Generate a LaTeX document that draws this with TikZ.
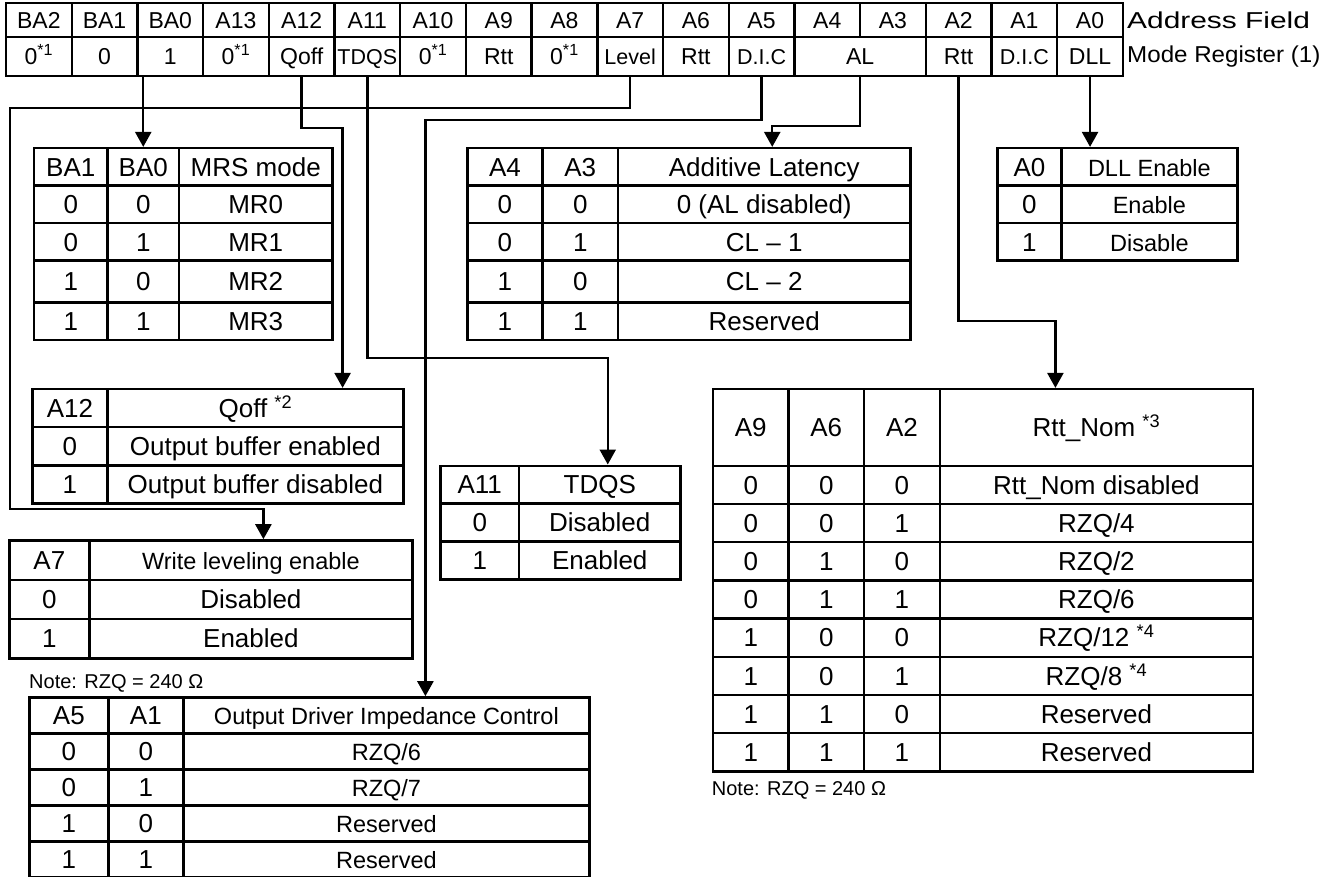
\documentclass[tikz,border=0pt]{standalone}
\usepackage{fontspec}
\setmainfont{Liberation Sans}
\usetikzlibrary{matrix, arrows.meta, positioning, calc}

\newcommand\tabfont{\fontsize{26}{30}\selectfont}
\newcommand\smallfont{\fontsize{23.5}{28}\selectfont}
\newcommand\regfont{\fontsize{23}{27}\selectfont}
\newcommand\tinyfont{\fontsize{21.5}{25}\selectfont}
\newcommand\notefont{\fontsize{20}{24}\selectfont}
\newcommand\sone{0\textsuperscript{*1}}

\begin{document}
\begin{tikzpicture}[
    x=1pt, y=-1pt,
    regcell/.style={draw, line width=2.4pt, inner sep=0pt, minimum width=65.7pt, font=\regfont, text height=16.5pt, text depth=0pt},
    tab/.style={matrix of nodes, inner sep=0pt, line width=2.4pt, row sep=-2.4pt, column sep=-2.4pt, anchor=north west,
        nodes={draw, line width=2.4pt, inner sep=0pt, anchor=center, minimum height=37.5pt, font=\tabfont, text height=18.6pt, text depth=0pt}},
    colw/.style 2 args={column #1/.style={nodes={minimum width=#2}}},
    rowh/.style 2 args={row #1/.style={nodes={minimum height=#2}}},
    arr/.style={line width=2.4pt, -{Triangle[width=16pt, length=15pt]}},
    notetext/.style={font=\notefont, inner sep=0pt}
]
    \useasboundingbox (0,0) rectangle (1331,877);

    % Register fields
    \foreach \lbl [count=\i from 0] in {BA2,BA1,BA0,A13,A12,A11,A10,A9,A8,A7,A6,A5,A4,A3,A2,A1,A0}
        \node[regcell, minimum height=34pt] (f\lbl) at ({6+65.7*(\i+0.5)},20) {\lbl};
    \foreach \nm/\i/\txt in {BA2/0/\sone, BA1/1/0, BA0/2/1, A13/3/\sone, A12/4/Qoff, A11/5/{\tinyfont TDQS},
        A10/6/\sone, A9/7/Rtt, A8/8/\sone, A7/9/{\tinyfont Level}, A6/10/Rtt, A5/11/{\tinyfont D.I.C},
        A2/14/Rtt, A1/15/{\tinyfont D.I.C}, A0/16/DLL}
        \node[regcell, minimum height=39pt] (m\nm) at ({6+65.7*(\i+0.5)},56.5) {\txt};
    \node[regcell, minimum height=39pt, minimum width=131.4pt] (mAL) at ({6+65.7*13},56.5) {AL};

    \node[font=\regfont, anchor=west, inner sep=0pt] (addr) at (1127,20) {\scalebox{1.3}[1]{Address Field}};
    \node[font=\regfont, anchor=west, inner sep=0pt] (mode) at (1127,57) {\scalebox{1.05}[1]{Mode Register (1)}};

    % Tables
    \matrix[tab, colw={1}{73.3pt}, colw={2}{71.7pt}, colw={3}{153.3pt}, rowh={4}{42pt}] (mrs) at (31.7,145.7) {
        BA1 & BA0 & MRS mode \\
        0 & 0 & MR0 \\
        0 & 1 & MR1 \\
        1 & 0 & MR2 \\
        1 & 1 & MR3 \\
    };
    \matrix[tab, colw={1}{75pt}, colw={2}{75.7pt}, colw={3}{292.3pt}, rowh={4}{42pt}] (altab) at (465,145.7) {
        A4 & A3 & Additive Latency \\
        0 & 0 & 0 (AL disabled) \\
        0 & 1 & CL -- 1 \\
        1 & 0 & CL -- 2 \\
        1 & 1 & Reserved \\
    };
    \matrix[tab, colw={1}{64pt}, colw={2}{176pt}, nodes={font=\smallfont}] (dll) at (995,145.7) {
        |[font=\tabfont]| A0 & DLL Enable \\
        |[font=\tabfont]| 0 & Enable \\
        |[font=\tabfont]| 1 & Disable \\
    };
    \matrix[tab, colw={1}{75pt}, colw={2}{296pt}, nodes={minimum height=38.1pt}] (qoff) at (30,386.7) {
        A12 & Qoff \textsuperscript{*2} \\
        0 & Output buffer enabled \\
        1 & Output buffer disabled \\
    };
    \matrix[tab, colw={1}{78.7pt}, colw={2}{161.3pt}, nodes={minimum height=37.9pt}] (tdqs) at (438,463.3) {
        A11 & TDQS \\
        0 & Disabled \\
        1 & Enabled \\
    };
    \matrix[tab, colw={1}{80pt}, colw={2}{323pt}, nodes={minimum height=39.3pt}] (wle) at (7,538) {
        A7 & |[font=\smallfont]| Write leveling enable \\
        0 & Disabled \\
        1 & Enabled \\
    };
    \matrix[tab, colw={1}{79pt}, colw={2}{75pt}, colw={3}{406pt}, nodes={minimum height=36pt},
            column 3/.append style={nodes={font=\smallfont}}] (odic) at (27,695) {
        A5 & A1 & Output Driver Impedance Control \\
        0 & 0 & RZQ/6 \\
        0 & 1 & RZQ/7 \\
        1 & 0 & Reserved \\
        1 & 1 & Reserved \\
    };
    \matrix[tab, colw={1}{75.3pt}, colw={2}{75.7pt}, colw={3}{75.6pt}, colw={4}{313.4pt},
            nodes={minimum height=38.2pt}, rowh={1}{76.6pt}] (rtt) at (710.7,386.7) {
        A9 & A6 & A2 & Rtt\_Nom \textsuperscript{*3} \\
        0 & 0 & 0 & Rtt\_Nom disabled \\
        0 & 0 & 1 & RZQ/4 \\
        0 & 1 & 0 & RZQ/2 \\
        0 & 1 & 1 & RZQ/6 \\
        1 & 0 & 0 & RZQ/12 \textsuperscript{*4} \\
        1 & 0 & 1 & RZQ/8 \textsuperscript{*4} \\
        1 & 1 & 0 & Reserved \\
        1 & 1 & 1 & Reserved \\
    };

    % Notes
    \node[notetext, anchor=base west] (noteodic) at ([xshift=2pt, yshift=7pt]odic.north west) {Note: RZQ = 240 Ω};
    \node[notetext, anchor=base west] (notertt) at ([xshift=1pt, yshift=-22pt]rtt.south west) {Note: RZQ = 240 Ω};

    % Bends
    \coordinate (lvlbend) at (10,509);

    % Connectors
    \draw[arr] (mrs-1-2.north |- mBA0.south) -- (mrs-1-2.north);
    \draw[arr] (mA12.south) -- ++(0,51) -| ([xshift=-62pt]qoff-1-2.north east);
    \draw[arr] (mA11.south) -- ++(0,281) -| ([xshift=8pt]tdqs-1-2.north);
    \draw[arr] (mA7.south) -- ++(0,31) -| (lvlbend) -| ([xshift=12.5pt]wle-1-2.north);
    \draw[arr] (mA5.south) -- ++(0,43) -| ([xshift=39pt]odic-1-3.north);
    \draw[arr] (mAL.south) -- ++(0,49) -| ([xshift=8pt]altab-1-3.north);
    \draw[arr] (mA2.south) -- ++(0,244) -| ([xshift=-41pt]rtt-1-4.north);
    \draw[arr] (mA0.south) -- (mA0.south |- dll-1-1.north);
\end{tikzpicture}
\end{document}
